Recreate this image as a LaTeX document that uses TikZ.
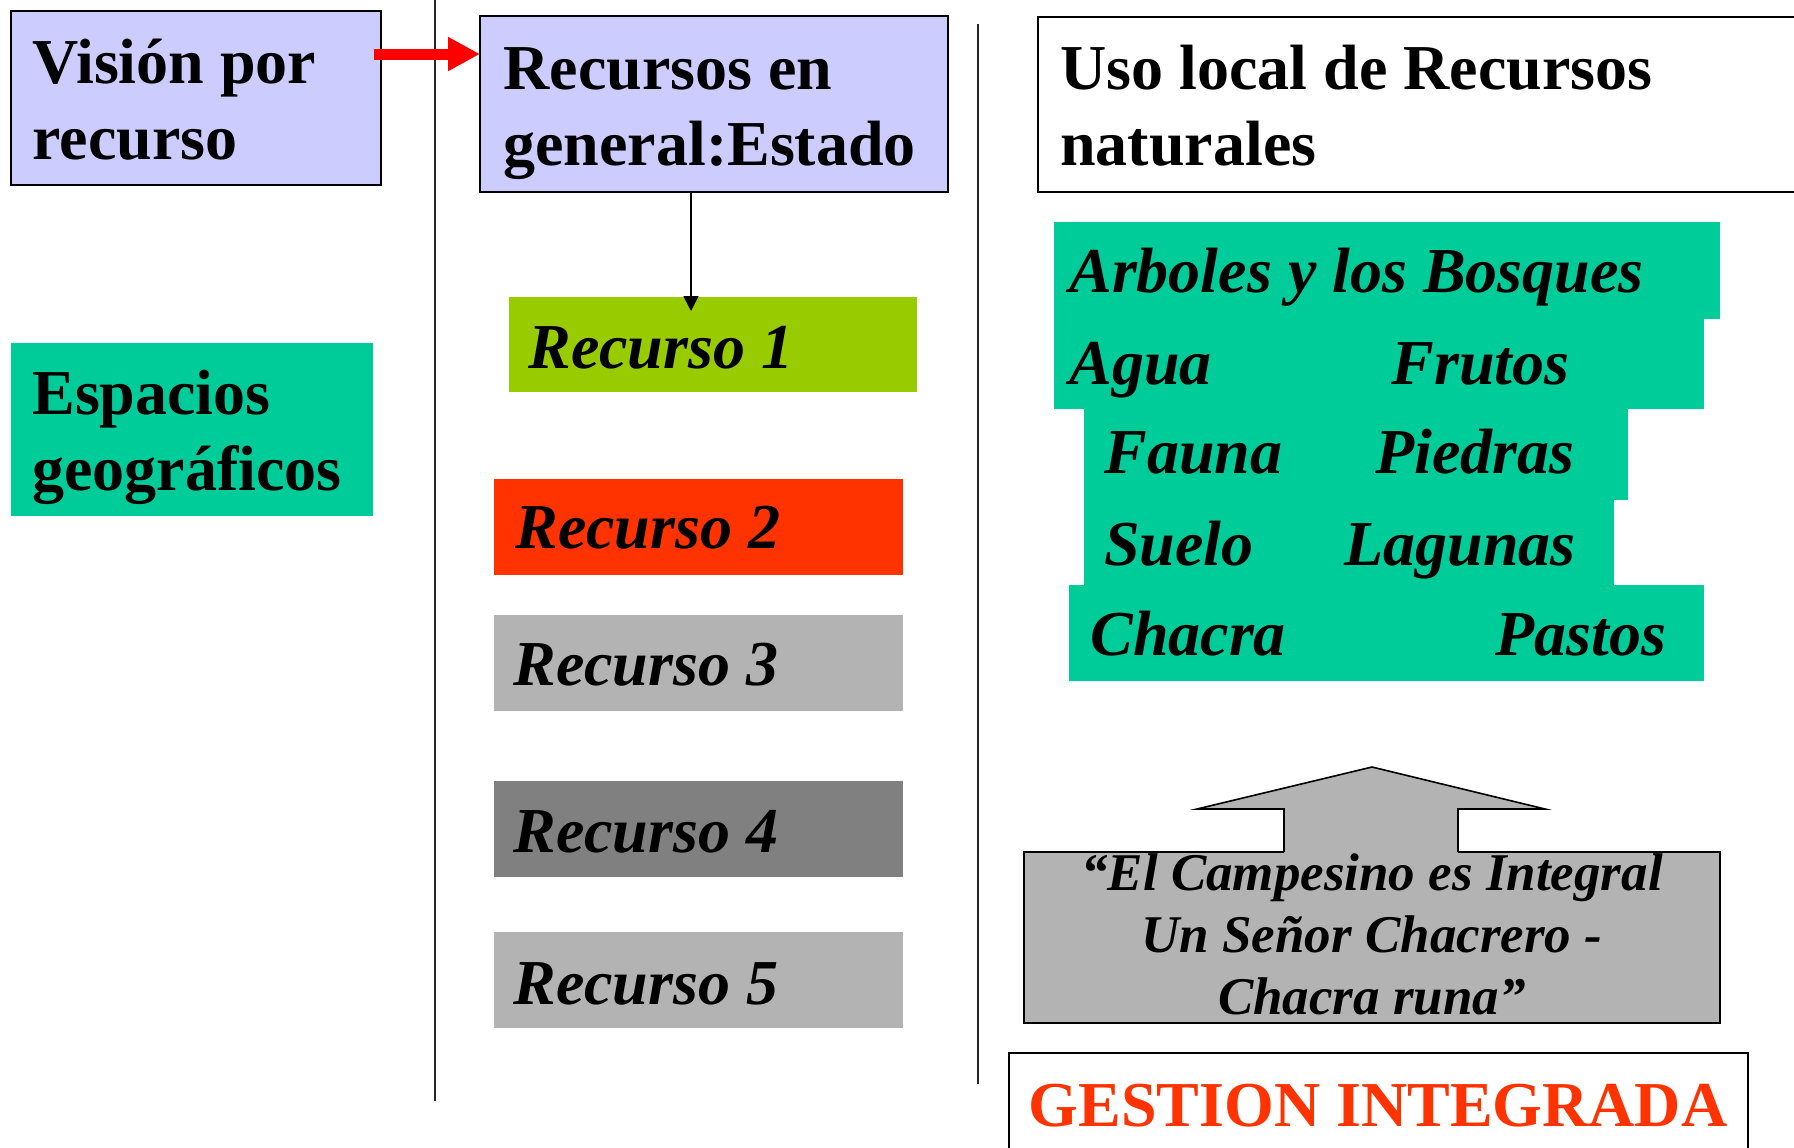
\documentclass[tikz,border=0pt]{standalone}
\usepackage{fontspec}
\setmainfont{Liberation Serif}
\usetikzlibrary{fit,arrows.meta}
\definecolor{lav}{HTML}{CCCCFF}
\definecolor{teal}{HTML}{00CC99}
\definecolor{lime}{HTML}{99CC00}
\definecolor{redo}{HTML}{FF3300}
\definecolor{grayl}{HTML}{B3B3B3}
\definecolor{grayd}{HTML}{808080}
\tikzset{
  boxfit/.style={inner sep=0pt, outer sep=0pt, fit={#1}},
  framed/.style={draw=black, line width=1pt},
  titletext/.style={anchor=base west, inner sep=0pt, font=\fontsize{32}{38}\selectfont\bfseries},
  itext/.style={anchor=base west, inner sep=0pt, font=\fontsize{32}{38}\selectfont\bfseries\itshape},
  qtext/.style={anchor=base, inner sep=0pt, font=\fontsize{26.5}{31}\selectfont\bfseries\itshape},
  sepline/.style={draw=black!85, line width=1pt},
  redarr/.style={draw=red, line width=5.5pt, -{Triangle[length=16pt,width=16pt]}, red},
  blkarr/.style={draw=black, line width=0.75pt, -{Triangle[length=7.5pt,width=7.5pt]}},
}
\newcommand{\twolines}[2]{\begin{tabular}[t]{@{}l@{}}#1\\#2\end{tabular}}
\begin{document}
\begin{tikzpicture}[x=0.5pt,y=-0.5pt]
\fill[white] (0,0) rectangle (1794,1147);
\useasboundingbox (0,0) rectangle (1794,1147);

% separator lines
\draw[sepline] (435,0) -- (435,1101);
\draw[sepline] (978,24) -- (978,1084);

% left column
\node (vision) [boxfit={(11,11)(381,185)}, framed, fill=lav] {};
\node (visiontxt) [titletext] at (32,83) {\twolines{Visión por}{recurso}};
\node (espacios) [boxfit={(11,343)(373,516)}, fill=teal] {};
\node (espaciostxt) [titletext] at (32,414) {\twolines{Espacios}{geográficos}};

% middle column
\node (recgen) [boxfit={(480,16)(948,192)}, framed, fill=lav] {};
\node (recgentxt) [titletext] at (503,89) {\twolines{Recursos en}{general:Estado}};

\node (rec1) [boxfit={(509,297)(917,392)}, fill=lime] {};
\node (rec1txt) [itext] at (528,368) {Recurso 1};
\node (rec2) [boxfit={(494,479)(903,575)}, fill=redo] {};
\node (rec2txt) [itext] at (515,548) {Recurso 2};
\node (rec3) [boxfit={(494,615)(903,711)}, fill=grayl] {};
\node (rec3txt) [itext] at (513,685) {Recurso 3};
\node (rec4) [boxfit={(494,781)(903,877)}, fill=grayd] {};
\node (rec4txt) [itext] at (513,852) {Recurso 4};
\node (rec5) [boxfit={(494,932)(903,1028)}, fill=grayl] {};
\node (rec5txt) [itext] at (513,1004) {Recurso 5};

% arrows
\coordinate (ra) at ([xshift=-3.5pt,yshift=-21.5pt]vision.north east);
\coordinate (rb) at (recgen.west |- ra);
\draw[redarr] (ra) -- (rb);
\coordinate (ba) at ([xshift=-11.5pt]recgen.south);
\coordinate (r1tip) at ([yshift=-7pt]rec1.north);
\coordinate (bb) at (ba |- r1tip);
\draw[blkarr] (ba) -- (bb);

% right column
\node (uso) [boxfit={(1038,17)(1820,192)}, draw=black, line width=0.8pt, fill=white] {};
\node (usotxt) [titletext] at (1060,89) {\twolines{Uso local de Recursos}{naturales}};

\fill[teal] (1054,222) rectangle (1720,319);
\fill[teal] (1054,318) rectangle (1704,409);
\fill[teal] (1084,408) rectangle (1628,500);
\fill[teal] (1084,499) rectangle (1614,586);
\fill[teal] (1069,585) rectangle (1704,681);
\node (t1) [itext] at (1069,292) {Arboles y los Bosques};
\node (t2a) [itext] at (1069,384) {Agua};
\node (t2b) [itext] at (1391,384) {Frutos};
\node (t3a) [itext] at (1104,473) {Fauna};
\node (t3b) [itext] at (1375,473) {Piedras};
\node (t4a) [itext] at (1104,565) {Suelo};
\node (t4b) [itext] at (1344,565) {Lagunas};
\node (t5a) [itext] at (1090,655) {Chacra};
\node (t5b) [itext] at (1495,655) {Pastos};

% campesino box with up arrow
\node (camp) [boxfit={(1024,852)(1720,1023)}, framed, fill=grayl] {};
\fill[grayl] (1284,856) -- (1284,809) -- (1197,809) -- (1372,767) -- (1545,809) -- (1458,809) -- (1458,856) -- cycle;
\draw[black, line width=0.8pt, line join=miter] (1284,852) -- (1284,809) -- (1197,809) -- (1372,767) -- (1545,809) -- (1458,809) -- (1458,852);
\node (camptxt) [qtext] at (1372,890) {\begin{tabular}[t]{@{}c@{}}“El Campesino es Integral\\Un Señor Chacrero -\\Chacra runa”\end{tabular}};

% gestion
\node (gestion) [boxfit={(1009,1053)(1748,1170)}, draw=black, line width=0.8pt, fill=white] {};
\node (gestiontxt) [anchor=base, inner sep=0pt, font=\fontsize{32}{38}\selectfont\bfseries, text=redo] at (1378,1126) {GESTION INTEGRADA};
\end{tikzpicture}
\end{document}
